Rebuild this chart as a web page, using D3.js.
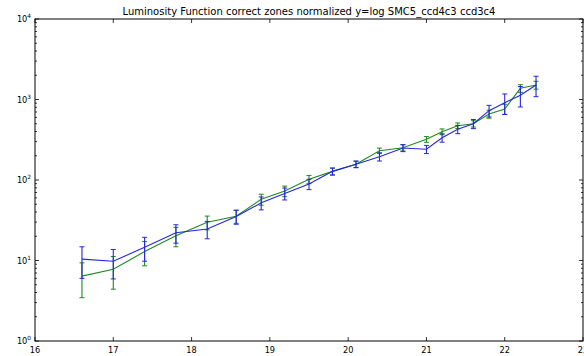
<!DOCTYPE html>
<html>
<head>
<meta charset="utf-8">
<script src="https://cdn.jsdelivr.net/npm/d3@7"></script>
<style>
  html, body { margin: 0; padding: 0; background: #fff; }
  svg { display: block; font-family: "DejaVu Sans", sans-serif; }
</style>
</head>
<body>
<svg id="chart" width="584" height="356"></svg>
<script>
// Magnitude bins and normalized counts for the two CCD pairs
const magnitudes = [16.6, 17.0, 17.4, 17.8, 18.2, 18.57, 18.89, 19.19, 19.5, 19.8, 20.1, 20.4, 20.7, 21.0, 21.2, 21.4, 21.6, 21.8, 22.0, 22.2, 22.4];

const blueCounts = [10.4, 9.8, 14.6, 22.1, 24.6, 35.2, 52, 68, 89, 128, 157, 195, 250, 241, 335, 426, 500, 726, 912, 1128, 1514];
const blueErrors = [4.4, 3.9, 4.8, 5.7, 6.0, 7.0, 9.5, 11.5, 13, 13, 15, 23, 25, 28, 40, 50, 65, 120, 260, 320, 430];

const greenCounts = [6.4, 7.8, 12.9, 20.3, 29.8, 35.5, 57.6, 73, 102, 128, 157, 231, 252, 320, 398, 473, 500, 661, 762, 1377, 1514];
const greenErrors = [2.95, 3.4, 4.3, 5.5, 5.8, 6.5, 9, 11, 12, 12, 14, 18, 22, 26, 33, 38, 45, 75, 110, 150, 170];

const xTicks = [16, 17, 18, 19, 20, 21, 22, 23];
const yDecades = [0, 1, 2, 3, 4];

const titleText = "Luminosity Function correct zones normalized y=log SMC5_ccd4c3 ccd3c4";

const svg = d3.select("#chart");
const plotLeft = 35, plotRight = 583, plotTop = 19, plotBottom = 341;

const x = d3.scaleLinear().domain([16, 23]).range([plotLeft, plotRight]);
const y = d3.scaleLog().domain([1, 10000]).range([plotBottom, plotTop]);

// Series: green drawn first, blue on top
const series = [
  { values: greenCounts, errors: greenErrors, color: "#1f8a1f" },
  { values: blueCounts, errors: blueErrors, color: "#2626e0" }
];

const line = d3.line().x((d) => x(d[0])).y((d) => y(d[1]));

series.forEach((s) => {
  const pts = magnitudes.map((m, i) => [m, s.values[i], s.errors[i]]);
  const g = svg.append("g");
  // error bars with caps
  pts.forEach((p) => {
    const lo = Math.max(p[1] - p[2], 1.01);
    const hi = p[1] + p[2];
    const cx = x(p[0]);
    g.append("line").attr("x1", cx).attr("x2", cx)
      .attr("y1", y(lo)).attr("y2", y(hi))
      .attr("stroke", s.color).attr("stroke-width", 1.1);
    [lo, hi].forEach((v) => {
      g.append("line").attr("x1", cx - 2.5).attr("x2", cx + 2.5)
        .attr("y1", y(v)).attr("y2", y(v))
        .attr("stroke", s.color).attr("stroke-width", 1);
    });
  });
  g.append("path").datum(pts).attr("d", line)
    .attr("fill", "none").attr("stroke", s.color).attr("stroke-width", 1.1);
});

// Frame
svg.append("rect").attr("x", plotLeft).attr("y", plotTop)
  .attr("width", plotRight - plotLeft).attr("height", plotBottom - plotTop)
  .attr("fill", "none").attr("stroke", "#000").attr("stroke-width", 1);

const tickG = svg.append("g").attr("stroke", "#000").attr("stroke-width", 0.8);

// x ticks on bottom and top, pointing inward
xTicks.forEach((t) => {
  const px = x(t);
  tickG.append("line").attr("x1", px).attr("x2", px).attr("y1", plotBottom).attr("y2", plotBottom - 4);
  tickG.append("line").attr("x1", px).attr("x2", px).attr("y1", plotTop).attr("y2", plotTop + 4);
  svg.append("text").attr("x", px).attr("y", plotBottom + 12)
    .attr("text-anchor", "middle").attr("font-size", 8.2).attr("fill", "#000").text(t);
});

// y ticks: major decades and minor 2..9
yDecades.forEach((k) => {
  const py = y(Math.pow(10, k));
  tickG.append("line").attr("x1", plotLeft).attr("x2", plotLeft + 4).attr("y1", py).attr("y2", py);
  tickG.append("line").attr("x1", plotRight).attr("x2", plotRight - 4).attr("y1", py).attr("y2", py);
  const label = svg.append("text").attr("x", plotLeft - 4).attr("y", py + 3)
    .attr("text-anchor", "end").attr("font-size", 8.2).attr("fill", "#000");
  label.append("tspan").text("10");
  label.append("tspan").attr("dy", -4).attr("font-size", 5.8).text(k);
  if (k < 4) {
    for (let m = 2; m <= 9; m++) {
      const pm = y(m * Math.pow(10, k));
      tickG.append("line").attr("x1", plotLeft).attr("x2", plotLeft + 2).attr("y1", pm).attr("y2", pm);
      tickG.append("line").attr("x1", plotRight).attr("x2", plotRight - 2).attr("y1", pm).attr("y2", pm);
    }
  }
});

// Title
svg.append("text").attr("x", (plotLeft + plotRight) / 2).attr("y", 15)
  .attr("text-anchor", "middle").attr("font-size", 10).attr("fill", "#000")
  .text(titleText);
</script>
</body>
</html>
